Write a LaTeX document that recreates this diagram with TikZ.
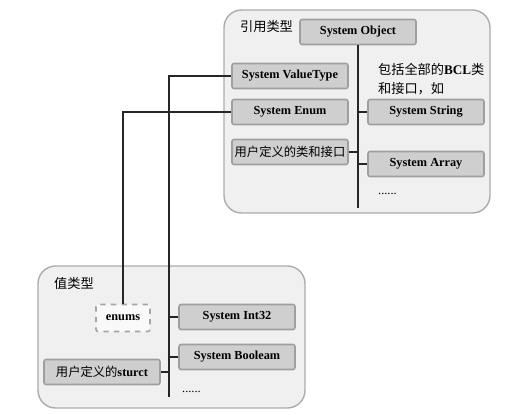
\documentclass[tikz,border=0pt]{standalone}
\usepackage{fontspec}
\setmainfont{Liberation Serif}
\newfontfamily\cjk{Noto Sans CJK SC}
\usetikzlibrary{positioning,calc}

\begin{document}
\begin{tikzpicture}[
    x=0.02cm, y=-0.02cm,
    area/.style={draw=gray!65, fill=gray!12, line width=0.8pt, rounded corners=10pt},
    typebox/.style={rectangle, draw=gray!75, fill=gray!38, line width=0.9pt,
                    rounded corners=1.2pt, minimum width=2.32cm, minimum height=0.5cm,
                    inner sep=1pt, text centered, font=\fontsize{7}{8.5}\selectfont\bfseries},
    dashbox/.style={rectangle, draw=gray!70, fill=gray!5, dashed, line width=0.9pt,
                    rounded corners=1.2pt, minimum width=1.08cm, minimum height=0.54cm,
                    text centered, font=\fontsize{7}{8.5}\selectfont\bfseries},
    link/.style={draw=black!85, line width=0.9pt},
    areatitle/.style={font=\fontsize{7.5}{9}\selectfont\cjk, anchor=west}
]
\useasboundingbox (0,0) rectangle (515,414);

% Reference types (top)
\draw[area] (224,10) rectangle (490,213);
\node[areatitle] (reftitle) at (234,27) {引用类型};

\node[typebox] (obj) at (358,32) {System Object};
\node[typebox] (vtype) at (290,76) {System ValueType};
\node[typebox] (enum) at (290,112) {System Enum};
\node[typebox, font=\fontsize{7}{8.5}\selectfont\cjk] (udclass) at (290,152) {用户定义的类和接口};
\node[typebox] (str) at (426,112) {System String};
\node[typebox] (arr) at (426,164) {System Array};

\node[anchor=north west, align=left, font=\fontsize{7.5}{11}\selectfont\cjk] (bcl) at (372,57)
    {包括全部的\textbf{\rmfamily BCL}类\\和接口，如};
\node[anchor=west, font=\fontsize{7}{8}\selectfont] (refmore) at (372,194) {......};

\coordinate (refend) at (358,208);
\draw[link] (obj.south) -- (refend);
\draw[link] (udclass.east) -- (udclass.east -| refend);
\draw[link] (str.west) -- (str.west -| refend);
\draw[link] (arr.west) -- (arr.west -| refend);

% Value types (bottom)
\draw[area] (38,266) rectangle (305,408);
\node[areatitle] (valtitle) at (48,283) {值类型};

\node[dashbox] (enums) at (123,318) {enums};
\node[typebox] (int) at (237,317) {System Int32};
\node[typebox] (bool) at (237,357) {System Booleam};
\node[typebox, font=\fontsize{7}{8.5}\selectfont\cjk] (udstruct) at (102,372)
    {用户定义的\textbf{\rmfamily sturct}};
\node[anchor=west, font=\fontsize{7}{8}\selectfont] (valmore) at (176,392) {......};

\coordinate (valend) at (169,397);
\draw[link] (vtype.west) -| (valend);
\draw[link] (enum.west) -| (enums.north);
\draw[link] (int.west) -- (int.west -| valend);
\draw[link] (bool.west) -- (bool.west -| valend);
\draw[link] (udstruct.east) -- (udstruct.east -| valend);

\end{tikzpicture}
\end{document}
